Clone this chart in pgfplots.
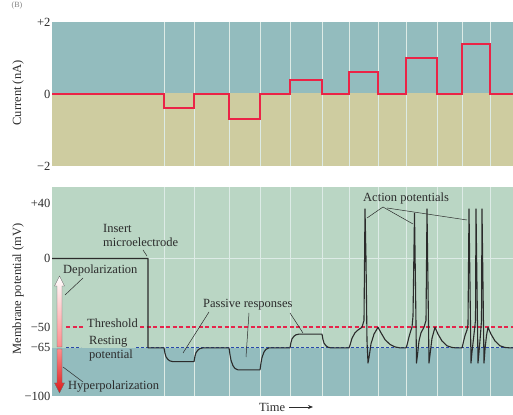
\documentclass[border=0pt]{standalone}
\usepackage{pgfplots}
\pgfplotsset{compat=1.18}
\usetikzlibrary{arrows.meta}
\usepackage{fontspec}
\setmainfont{Liberation Serif}
\definecolor{tealBG}{RGB}{147,188,190}
\definecolor{tanBG}{RGB}{206,204,160}
\definecolor{greenBG}{RGB}{186,214,196}
\definecolor{curred}{RGB}{235,35,70}
\definecolor{thred}{RGB}{230,35,75}
\definecolor{restblue}{RGB}{40,72,170}
\definecolor{gridc}{RGB}{221,235,230}
\definecolor{txt}{RGB}{43,43,43}
\newcommand\ff{\fontsize{12.5bp}{14bp}\selectfont}

\begin{document}
\begin{tikzpicture}
% panel backgrounds (positions match the axes below)
\fill[tealBG] (52bp,322bp) rectangle (513bp,393bp);
\fill[tanBG]  (52bp,249bp) rectangle (513bp,322bp);
\fill[greenBG] (52bp,67.13bp) rectangle (513bp,228bp);
\fill[tealBG]  (52bp,19bp) rectangle (513bp,67.13bp);
\pgfplotsset{
 panel/.style={scale only axis, width=461bp, xmin=52, xmax=513,
   axis line style={draw=none}, tick style={draw=none},
   xtick=\empty, anchor=south west,
   yticklabel style={font=\ff, text=txt, inner sep=1.5bp}, clip=true},
 gridline/.style={gridc, line width=0.8bp, forget plot}
}
% ---------- current panel ----------
\begin{axis}[panel, at={(52bp,249bp)}, height=144bp, ymin=-2, ymax=2,
  ytick={-2,0,2}, yticklabels={−2,0,+2}]
\pgfplotsinvokeforeach{164,194,229,260,290,322,349,378,406,437,462,490}{
  \addplot[gridline] coordinates {(#1,-2)(#1,2)};
}
\addplot[const plot, color=curred, line width=2.1bp] coordinates {
(52,0)(164,-0.4)(194,0)(229,-0.7)(260,0)(290,0.4)(322,0)(349,0.6)(378,0)(406,1.0)(437,0)(462,1.4)(490,0)(513,0)};
\end{axis}
% ---------- membrane potential panel ----------
\begin{axis}[panel, at={(52bp,19bp)}, height=209bp, ymin=-100, ymax=52,
  ytick={40,0,-50,-65,-100}, yticklabels={+40,0,−50,−65,−100}]
\pgfplotsinvokeforeach{164,194,229,260,290,322,349,378,406,437,462,490}{
  \addplot[gridline] coordinates {(#1,-100)(#1,52)};
}
\addplot[gridline] coordinates {(52,0)(513,0)};
% threshold and resting lines
\addplot[color=thred, line width=1.7bp, dash pattern=on 4bp off 2.5bp] coordinates {(66,-50)(83,-50)};
\addplot[color=thred, line width=1.7bp, dash pattern=on 4bp off 2.5bp] coordinates {(140,-50)(513,-50)};
\addplot[color=restblue, line width=1bp, dash pattern=on 3bp off 2bp] coordinates {(66,-65)(81,-65)};
\addplot[color=restblue, line width=1bp, dash pattern=on 3bp off 2bp] coordinates {(136,-65)(513,-65)};
% membrane trace
\addplot[color=txt, line width=1.1bp, line join=round] coordinates {
(52,0)(148,0)(148,-65)(164,-65)
(165,-69)(166,-71.5)(168,-73.5)(170,-74.5)(173,-75)(194,-75)
(195,-71)(196,-68.5)(198,-66.5)(200,-65.5)(203,-65)(229,-65)
(230,-70)(231,-74)(233,-78)(235,-80)(238,-81)(260,-81)
(261,-76)(262,-72)(264,-68)(266,-66)(269,-65)(290,-65)
(291,-61)(292,-58.5)(294,-56.5)(296,-55.5)(299,-55)(322,-55)
(323,-59)(324,-61.5)(326,-63.5)(328,-64.5)(331,-65)(349,-65)
(350,-63)(352,-58)(355,-54)(358,-52)(362,-50)(364,-45)(365,36)(366,0)(367,-60)(368,-76)
(369,-72)(371,-62)(374,-55)(378,-50)(381,-54)(385,-59)(390,-62.5)(395,-64.3)(400,-65)(406,-65)
(407,-63)(409,-57)(411,-52)(412,-50)(413,-42)(414.5,33)(415.5,-20)(416.5,-76)
(417.5,-70)(419,-60)(421,-54)(424,-50)(426,-45)(427,36)(428,-20)(429,-76)
(430,-70)(432,-58)(435,-50)(438,-55)(442,-60)(447,-63.5)(452,-64.7)(456,-65)(462,-65)
(463,-62)(465,-56)(467,-52)(468,-48)(469,36)(470,-20)(471,-76)
(472,-68)(474,-55)(475.5,-45)(476,36)(477,-20)(478,-76)
(479,-68)(480.5,-55)(481.5,-45)(482,36)(483,-20)(484,-76)
(485,-66)(486.5,-56)(488,-50)(491,-55)(495,-60)(500,-63.5)(505,-64.7)(510,-65)(513,-65)};
\end{axis}
% ---------- annotations (pixel coordinates, y downward) ----------
\begin{scope}[x=1bp, y=-1bp, yshift=415bp, every node/.style={font=\ff, text=txt, inner sep=0pt}]
\node[font=\fontsize{8bp}{9bp}\selectfont, text=gray] at (17,6) {(B)};
\node[rotate=90] at (18,93) {Current (nA)};
\node[rotate=90] at (18,289) {Membrane potential (mV)};
% arrows
\shade[top color=white, bottom color=red!45!white, draw=black!60, line width=0.4bp]
  (57,347) -- (57,286) -- (54.5,286) -- (59.5,276) -- (64.5,286) -- (62,286) -- (62,347) -- cycle;
\shade[top color=red!45!white, bottom color=red!85!black!90, draw=black!60, line width=0.4bp]
  (57,349) -- (57,383) -- (54.5,383) -- (59.5,393) -- (64.5,383) -- (62,383) -- (62,349) -- cycle;
% labels
\node[anchor=west] at (103,228) {Insert};
\node[anchor=west] at (103,242) {microelectrode};
\node[anchor=west] at (63,270) {Depolarization};
\node[anchor=west] at (87,323) {Threshold};
\node[anchor=west] at (89,342) {Resting};
\node[anchor=west] at (89,355) {potential};
\node[anchor=west] at (68,387) {Hyperpolarization};
\node[anchor=west] at (203,305) {Passive responses};
\node[anchor=west] at (363,198) {Action potentials};
\node[anchor=west] at (259,407) {Time};
\draw[txt, line width=0.7bp, -{Stealth[length=5bp, width=4bp]}] (289,407) -- (313,407);
% pointer lines
\begin{scope}[txt, line width=0.5bp]
\draw (143,250) -- (147,256);
\draw (83,278) -- (65,295);
\draw (63,367) -- (83,382);
\draw (209,312) -- (183,353);
\draw (249,313) -- (246,357);
\draw (290,313) -- (303,333);
\draw (383,207) -- (367,218);
\draw (383,207) -- (413,224);
\draw (387,208) -- (467,220);
\end{scope}
\end{scope}
\pgfresetboundingbox
\path[use as bounding box] (0,0) rectangle (513bp,415bp);
\end{tikzpicture}
\end{document}
